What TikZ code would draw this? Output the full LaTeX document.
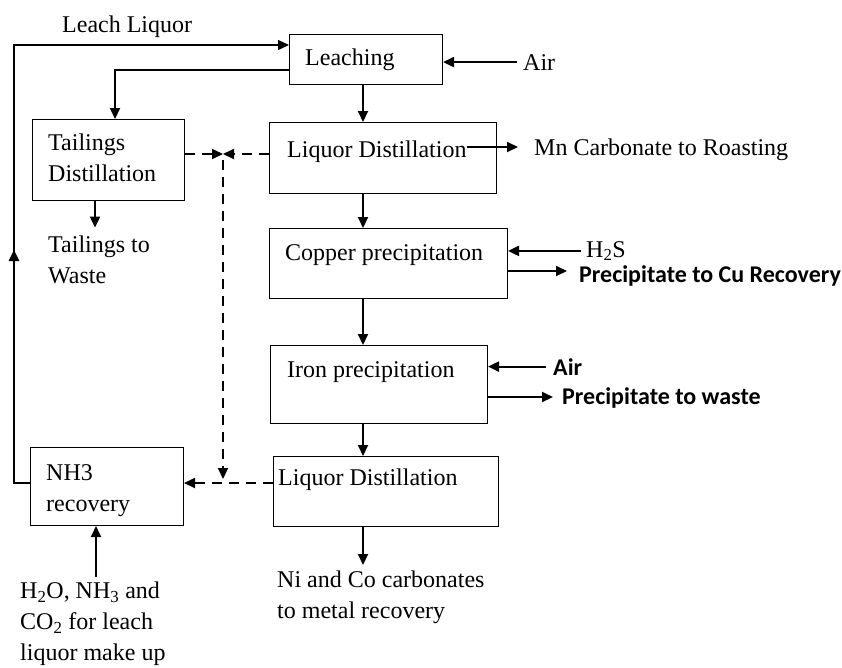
\documentclass[tikz,border=0pt]{standalone}
\usepackage{fontspec}
\setmainfont{Liberation Serif}
\newfontfamily\calfont{Carlito}
\usetikzlibrary{arrows.meta,positioning}

\begin{document}
\begin{tikzpicture}[
    x=1pt, y=-1pt,
    font=\fontsize{24}{31}\selectfont,
    box/.style={draw, line width=1pt, anchor=north west, inner sep=0pt},
    txt/.style={inner sep=0pt, anchor=base west},
    mtxt/.style={inner sep=0pt, anchor=north west, align=left},
    sans/.style={txt, font=\fontsize{24}{31}\selectfont\calfont\bfseries},
    flow/.style={-{Triangle[length=11pt, width=10pt]}, line width=2pt},
    recycle/.style={flow, dash pattern=on 10pt off 7pt},
    returnline/.style={line width=1.2pt}
  ]
    \useasboundingbox (0,0) rectangle (842,667);

    \node[box, minimum width=153pt, minimum height=50pt] (leach) at (289,34) {};
    \node[box, minimum width=152pt, minimum height=81pt] (tdist) at (32,119) {};
    \node[box, minimum width=227pt, minimum height=71pt] (ld1) at (269,122) {};
    \node[box, minimum width=238pt, minimum height=70pt] (cu) at (269,228) {};
    \node[box, minimum width=217pt, minimum height=78pt] (fe) at (270,345) {};
    \node[box, minimum width=225pt, minimum height=70pt] (ld2) at (273,456) {};
    \node[box, minimum width=153pt, minimum height=78pt] (nh3) at (30,447) {};

    \node[txt] (liqT) at (62,32) {Leach Liquor};
    \node[txt] (leachT) at (305,65) {Leaching};
    \node[txt] (airT) at (523,70) {Air};
    \node[mtxt] (tdistT) at (48,133.6) {Tailings\\Distillation};
    \node[txt] (ld1T) at (287,157) {Liquor Distillation};
    \node[txt] (mnT) at (534,155) {Mn Carbonate to Roasting};
    \node[mtxt] (wasteT) at (48,235.6) {Tailings to\\Waste};
    \node[txt] (cuT) at (285,260) {Copper precipitation};
    \node[txt] (h2sT) at (586,257) {H\textsubscript{2}S};
    \node[sans] (cuPT) at (579,282) {Precipitate to Cu Recovery};
    \node[txt] (feT) at (287,377) {Iron precipitation};
    \node[sans] (airFeT) at (553,375) {Air};
    \node[sans] (fePT) at (562,404) {Precipitate to waste};
    \node[mtxt] (nh3T) at (46,464) {NH3\\recovery};
    \node[txt] (ld2T) at (278,485) {Liquor Distillation};
    \node[mtxt] (niT) at (277,571) {Ni and Co carbonates\\to metal recovery};
    \node[mtxt] (makeT) at (20,582) {H\textsubscript{2}O, NH\textsubscript{3} and\\CO\textsubscript{2} for leach\\liquor make up};

    \coordinate (spine) at (363,0);
    \coordinate (loopT) at (14,45);
    \coordinate (loopB) at (14,483);
    \coordinate (upA) at (14,362);
    \coordinate (upB) at (14,250);
    \coordinate (jn) at (223,154);
    \coordinate (jnB) at (223,483);

    \draw[returnline, -{Triangle[length=11pt, width=10pt]}] (nh3.west |- loopB) -- (loopB) -- (loopT) -- (leach.west |- loopT);
    \draw[flow, line width=2.6pt] (upA) -- (upB);
    \draw[flow] (leach.west |- 0,70) -| (tdist.north -| 115,0);

    \draw[flow] (leach.south -| spine) -- (ld1.north -| spine);
    \draw[flow] (ld1.south -| spine) -- (cu.north -| spine);
    \draw[flow] (cu.south -| spine) -- (fe.north -| spine);
    \draw[flow] (fe.south -| spine) -- (ld2.north -| spine);
    \draw[flow, shorten >=6pt] (ld2.south -| spine) -- (niT.north -| spine);

    \draw[flow, shorten <=6pt] (airT.west) -- (leach.east |- airT.west);
    \draw[flow, shorten >=16pt] (ld1T.east |- 0,147) -- (mnT.west |- 0,147);
    \draw[flow, shorten >=8pt] (tdist.south -| 95,0) -- (wasteT.north -| 95,0);
    \draw[flow, shorten <=5pt] (h2sT.west) -- (cu.east |- h2sT.west);
    \draw[flow, shorten >=12pt] (cu.east |- 0,271) -- (cuPT.west |- 0,271);
    \draw[flow, shorten <=7pt] (airFeT.west) -- (fe.east |- airFeT.west);
    \draw[flow, shorten >=9pt] (fe.east |- 0,397) -- (fePT.west |- 0,397);
    \draw[flow, shorten <=5pt] (makeT.north -| 96,0) -- (nh3.south -| 96,0);

    \draw[recycle] (tdist.east |- jn) -- (jn);
    \draw[recycle] (ld1.west |- jn) -- (jn);
    \draw[recycle, shorten <=6pt, shorten >=4pt] (jn) -- (jnB);
    \draw[recycle] (ld2.west |- jnB) -- (nh3.east |- jnB);
  \end{tikzpicture}
\end{document}
